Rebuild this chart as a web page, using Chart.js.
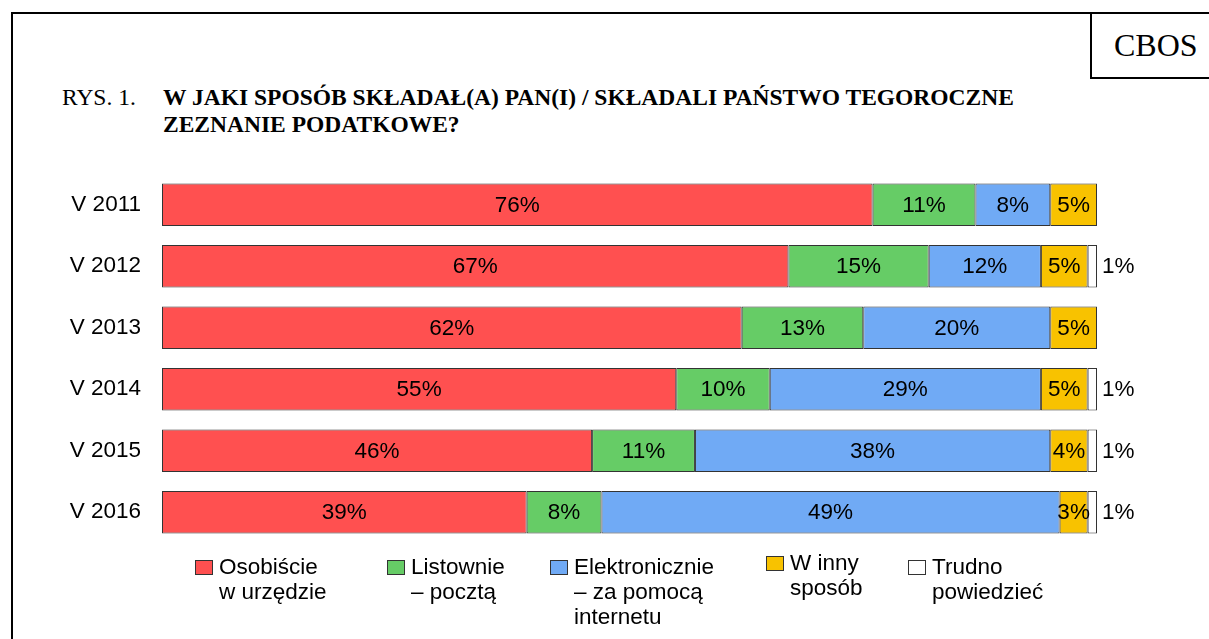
<!DOCTYPE html>
<html lang="pl">
<head>
<meta charset="utf-8">
<script src="https://cdn.jsdelivr.net/npm/chart.js@4.4.1/dist/chart.umd.min.js"></script>
<style>
  html, body { margin: 0; padding: 0; background: #fff; }
  body { width: 1209px; height: 639px; position: relative; overflow: hidden; }
  #frame { position: absolute; left: 11px; top: 12px; width: 1220px; height: 700px;
           border-left: 2px solid #000; border-top: 2px solid #000; }
  #cbos { position: absolute; left: 1090px; top: 12px; width: 140px; height: 63px;
          border-left: 2px solid #000; border-top: 2px solid #000; border-bottom: 2px solid #000;
          font-family: "Liberation Serif", "Times New Roman", serif; font-size: 32px; }
  #cbos span { position: absolute; left: 22px; top: 13px; }
  .serif { position: absolute; font-family: "Liberation Serif", "Times New Roman", serif; font-size: 23.5px; }
  #rys { left: 62px; top: 84px; }
  #title { left: 163px; top: 84px; font-weight: bold; line-height: 27px; }
  canvas#chart { position: absolute; left: 0; top: 0; }
  .leg { position: absolute; font-family: "Liberation Sans", Arial, sans-serif; font-size: 22.5px; line-height: 25px; color: #000; white-space: nowrap; }
  .leg i { position: absolute; width: 16px; height: 13px; border: 1px solid #333; left: -24px; top: 6px; }
</style>
</head>
<body>
<div id="frame"></div>
<div id="cbos"><span>CBOS</span></div>
<div class="serif" id="rys">RYS. 1.</div>
<div class="serif" id="title">W JAKI SPOSÓB SKŁADAŁ(A) PAN(I) / SKŁADALI PAŃSTWO TEGOROCZNE<br>ZEZNANIE PODATKOWE?</div>
<canvas id="chart" width="1209" height="639"></canvas>
<div id="legend"></div>
<script>
// categories
const years = ["V 2011", "V 2012", "V 2013", "V 2014", "V 2015", "V 2016"];

// series values (%)
const osobiscie = [76, 67, 62, 55, 46, 39];
const listownie = [11, 15, 13, 10, 11, 8];
const elektronicznie = [8, 12, 20, 29, 38, 49];
const wInny = [5, 5, 5, 5, 4, 3];
const trudno = [0, 1, 0, 1, 1, 1];

const seriesNames = [
    ["Osobiście", "w urzędzie"],
    ["Listownie", "– pocztą"],
    ["Elektronicznie", "– za pomocą", "internetu"],
    ["W inny", "sposób"],
    ["Trudno", "powiedzieć"]
];
const seriesColors = ["#FF5050", "#66CC66", "#70AAF5", "#F8C200", "#FFFFFF"];

// legend (html, multi-line labels)
const legendPos = [[219, 554], [411, 554], [574, 554], [790, 550], [932, 554]];
const legendBox = document.getElementById("legend");
seriesNames.forEach((name, i) => {
    const d = document.createElement("div");
    d.className = "leg";
    d.style.left = legendPos[i][0] + "px";
    d.style.top = legendPos[i][1] + "px";
    d.innerHTML = '<i style="background:' + seriesColors[i] + '"></i>' + name.join("<br>");
    legendBox.appendChild(d);
});

// value labels drawn on the bars
const valueLabels = {
    id: "valueLabels",
    afterDatasetsDraw(chart) {
        const ctx = chart.ctx;
        ctx.save();
        ctx.font = "22.5px 'Liberation Sans', Arial, sans-serif";
        ctx.fillStyle = "#000";
        ctx.textBaseline = "middle";
        chart.data.datasets.forEach((ds, di) => {
            const meta = chart.getDatasetMeta(di);
            meta.data.forEach((bar, i) => {
                const v = ds.data[i];
                if (!v) return;
                const txt = v + "%";
                if (di === 4) {
                    ctx.textAlign = "left";
                    ctx.fillText(txt, bar.x + 5, bar.y + 1);
                } else {
                    ctx.textAlign = "center";
                    ctx.fillText(txt, (bar.x + bar.base) / 2, bar.y + 1);
                }
            });
        });
        ctx.restore();
    }
};

const datasets = [osobiscie, listownie, elektronicznie, wInny, trudno].map((values, i) => ({
    label: seriesNames[i].join(" "),
    data: values,
    backgroundColor: seriesColors[i],
    borderColor: "#333333",
    borderWidth: 1,
    borderSkipped: false,
    barPercentage: 0.69,
    categoryPercentage: 1
}));

new Chart(document.getElementById("chart").getContext("2d"), {
    type: "bar",
    data: { labels: years, datasets: datasets },
    options: {
        indexAxis: "y",
        responsive: false,
        animation: false,
        layout: { padding: { left: 0, right: 112, top: 174, bottom: 96 } },
        plugins: {
            legend: { display: false },
            tooltip: { enabled: false }
        },
        scales: {
            x: { stacked: true, display: false, min: 0, max: 100 },
            y: {
                stacked: true,
                grid: { display: false, drawTicks: false },
                border: { display: false },
                afterFit(scale) { scale.width = 162; },
                ticks: {
                    color: "#000",
                    padding: 21,
                    font: { family: "'Liberation Sans', Arial, sans-serif", size: 22.5 }
                }
            }
        }
    },
    plugins: [valueLabels]
});
</script>
</body>
</html>
